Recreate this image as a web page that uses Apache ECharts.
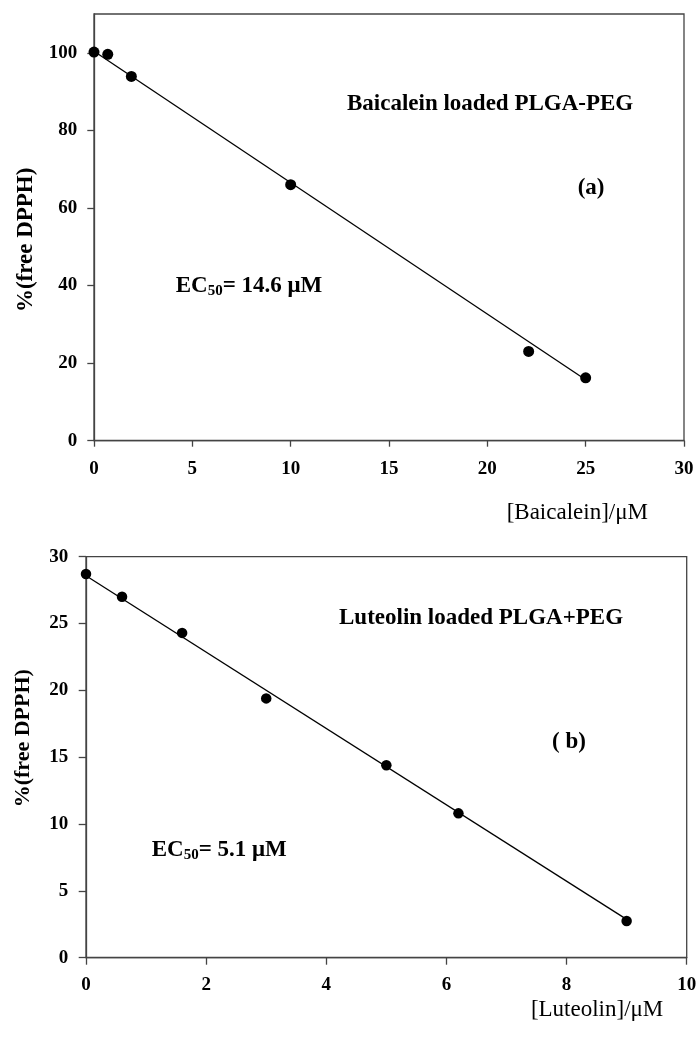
<!DOCTYPE html>
<html>
<head>
<meta charset="utf-8">
<script src="https://cdn.jsdelivr.net/npm/echarts@6/dist/echarts.min.js"></script>
<style>
  body {margin:0;padding:0;overflow:hidden;background:#fff;}
  #main {width:697px;height:1043px;}
</style>
</head>
<body>
<div id="main"></div>
<script>
// (a) baicalein loaded PLGA-PEG
const baiConc = [0, 0.7, 1.9, 10, 22.1, 25];
const baiFree = [100.2, 99.6, 93.9, 66.0, 23.0, 16.2];
const baiFitConc = [0, 25];
const baiFitFree = [100.4, 15.7];
const baiYTicks = [0, 20, 40, 60, 80, 100];

// (b) luteolin loaded PLGA+PEG
const lutConc = [0, 0.6, 1.6, 3.0, 5.0, 6.2, 9.0];
const lutFree = [28.7, 27.0, 24.3, 19.4, 14.4, 10.8, 2.75];
const lutFitConc = [0, 9];
const lutFitFree = [28.57, 2.87];

const SERIF = '"Liberation Serif", "Times New Roman", serif';
const axisCol = '#444';

function pairs(xs, ys) {
  return xs.map((x, i) => [x, ys[i]]);
}

function valueAxis(extra) {
  return Object.assign({
    type: 'value',
    splitLine: {show: false},
    axisLine: {show: true, onZero: false, lineStyle: {color: axisCol, width: 1.3}},
    axisTick: {show: true, inside: false, length: 6, lineStyle: {color: axisCol, width: 1.3}},
    axisLabel: {color: '#000', fontFamily: SERIF, fontWeight: 'bold', fontSize: 19}
  }, extra);
}

function label(x, y, text, weight) {
  return {type: 'text', x: x, y: y, style: {
    text: text, font: weight + ' 23px ' + SERIF, fill: '#000', textAlign: 'left', textVerticalAlign: 'middle'
  }};
}

function ecLabel(x, y, value) {
  return {type: 'text', x: x, y: y, style: {
    text: '{m|EC}{s|50}{m|= ' + value + ' \u03bcM}', textAlign: 'left', textVerticalAlign: 'middle',
    rich: {
      m: {font: 'bold 23px ' + SERIF, fill: '#000', lineHeight: 26},
      s: {font: 'bold 15px ' + SERIF, fill: '#000', lineHeight: 16, verticalAlign: 'bottom'}
    }
  }};
}

let myChart = echarts.init(document.getElementById('main'));

let option = {
  animation: false,
  backgroundColor: '#fff',
  grid: [
    {left: 94, right: 13, top: 14, bottom: 602.3, outerBoundsMode: 'none', containLabel: false,
     show: true, borderColor: axisCol, borderWidth: 1.3},
    {left: 86, right: 10.3, top: 556.7, bottom: 85.3, outerBoundsMode: 'none', containLabel: false,
     show: true, borderColor: axisCol, borderWidth: 1.3}
  ],
  xAxis: [
    valueAxis({
      gridIndex: 0, min: 0, max: 30, interval: 5,
      axisLabel: {color: '#000', fontFamily: SERIF, fontWeight: 'bold', fontSize: 19, margin: 19}
    }),
    valueAxis({
      gridIndex: 1, min: 0, max: 10, interval: 2,
      axisLabel: {color: '#000', fontFamily: SERIF, fontWeight: 'bold', fontSize: 19, margin: 18},
      axisTick: {show: true, length: 7, lineStyle: {color: axisCol, width: 1.3}}
    })
  ],
  yAxis: [
    valueAxis({
      gridIndex: 0, min: 0, max: 110, interval: 20,
      axisTick: {show: true, length: 6.7, customValues: baiYTicks, lineStyle: {color: axisCol, width: 1.3}},
      axisLabel: {color: '#000', fontFamily: SERIF, fontWeight: 'bold', fontSize: 19, margin: 16.7, customValues: baiYTicks},
      name: '%(free DPPH)', nameLocation: 'middle', nameGap: 49.5,
      nameTextStyle: {color: '#000', fontFamily: SERIF, fontWeight: 'bold', fontSize: 23, lineHeight: 24, padding: [0, 25, 0, 0]}
    }),
    valueAxis({
      gridIndex: 1, min: 0, max: 30, interval: 5,
      axisTick: {show: true, length: 7.3, lineStyle: {color: axisCol, width: 1.3}},
      axisLabel: {color: '#000', fontFamily: SERIF, fontWeight: 'bold', fontSize: 19, margin: 17.7},
      name: '%(free DPPH)', nameLocation: 'middle', nameGap: 50.7,
      nameTextStyle: {color: '#000', fontFamily: SERIF, fontWeight: 'bold', fontSize: 22, lineHeight: 24, padding: [0, 0, 0, 38]}
    })
  ],
  series: [
    {
      type: 'line', xAxisIndex: 0, yAxisIndex: 0, showSymbol: false, clip: false,
      lineStyle: {color: '#000', width: 1.3}, data: pairs(baiFitConc, baiFitFree)
    },
    {
      type: 'scatter', xAxisIndex: 0, yAxisIndex: 0, symbol: 'circle', symbolSize: 11, clip: false,
      itemStyle: {color: '#000', opacity: 1}, data: pairs(baiConc, baiFree)
    },
    {
      type: 'line', xAxisIndex: 1, yAxisIndex: 1, showSymbol: false, clip: false,
      lineStyle: {color: '#000', width: 1.3}, data: pairs(lutFitConc, lutFitFree)
    },
    {
      type: 'scatter', xAxisIndex: 1, yAxisIndex: 1, symbol: 'circle', symbolSize: 10.5, clip: false,
      itemStyle: {color: '#000', opacity: 1}, data: pairs(lutConc, lutFree)
    }
  ],
  graphic: [
    label(347, 104, 'Baicalein loaded PLGA-PEG', 'bold'),
    label(577.7, 188, '(a)', 'bold'),
    ecLabel(175.7, 285.7, '14.6'),
    {type: 'text', x: 648, y: 513, style: {text: '[Baicalein]/\u03bcM', font: '23px ' + SERIF, fill: '#000', textAlign: 'right', textVerticalAlign: 'middle'}},
    label(339, 618.3, 'Luteolin loaded PLGA+PEG', 'bold'),
    label(552, 742.3, '( b)', 'bold'),
    ecLabel(151.7, 850, '5.1'),
    {type: 'text', x: 663.3, y: 1010, style: {text: '[Luteolin]/\u03bcM', font: '23px ' + SERIF, fill: '#000', textAlign: 'right', textVerticalAlign: 'middle'}}
  ]
};

myChart.setOption(option);
window.onresize = myChart.resize;
</script>
</body>
</html>
